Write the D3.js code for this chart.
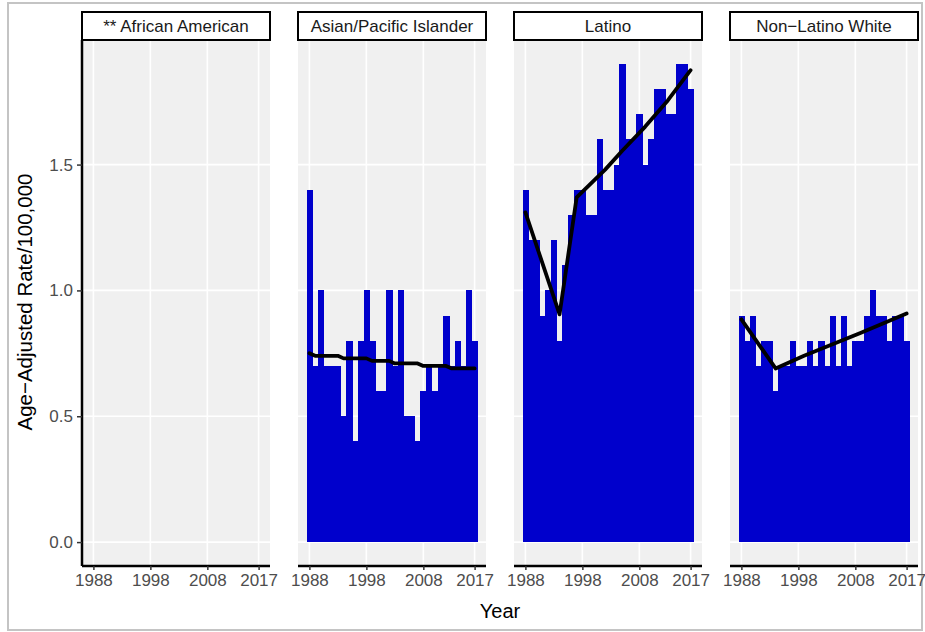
<!DOCTYPE html>
<html>
<head>
<meta charset="utf-8">
<script src="https://cdn.jsdelivr.net/npm/d3@7"></script>
<style>
  html, body { margin: 0; padding: 0; background: #ffffff; }
  svg { display: block; font-family: "Liberation Sans", Arial, sans-serif; }
</style>
</head>
<body>
<svg id="chart" width="925" height="632"></svg>
<script>
// ---------- data ----------
const groups = ["** African American", "Asian/Pacific Islander", "Latino", "Non\u2212Latino White"];
const years = [1988,1989,1990,1991,1992,1993,1994,1995,1996,1997,1998,1999,2000,2001,2002,
               2003,2004,2005,2006,2007,2008,2009,2010,2011,2012,2013,2014,2015,2016,2017];
const xTickYears = [1988, 1998, 2008, 2017];
const yTickValues = [0, 0.5, 1.0, 1.5];

// observed age-adjusted rates (African American suppressed)
const ratesAfricanAmerican = [];
const ratesAsianPI = [1.4,0.7,1.0,0.7,0.7,0.7,0.5,0.8,0.4,0.8,1.0,0.8,0.6,0.6,1.0,
                      0.7,1.0,0.5,0.5,0.4,0.6,0.7,0.6,0.7,0.9,0.7,0.8,0.7,1.0,0.8];
const ratesLatino = [1.4,1.2,1.2,0.9,1.0,1.2,0.8,1.1,1.3,1.4,1.4,1.3,1.3,1.6,1.4,
                     1.4,1.5,1.9,1.6,1.6,1.7,1.5,1.6,1.8,1.8,1.7,1.7,1.9,1.9,1.8];
const ratesNLWhite = [0.9,0.8,0.9,0.7,0.8,0.8,0.6,0.7,0.7,0.8,0.7,0.7,0.8,0.7,0.8,
                      0.7,0.9,0.7,0.9,0.7,0.8,0.8,0.9,1.0,0.9,0.9,0.8,0.9,0.9,0.8];

// modeled (joinpoint) trend values: [year, rate]
const trendAfricanAmerican = [];
const trendAsianPI = [[1988,0.75],[1989,0.74],[1990,0.74],[1991,0.74],[1992,0.74],[1993,0.74],
                      [1994,0.73],[1995,0.73],[1996,0.73],[1997,0.73],[1998,0.73],
                      [1999,0.72],[2000,0.72],[2001,0.72],[2002,0.72],
                      [2003,0.71],[2004,0.71],[2005,0.71],[2006,0.71],[2007,0.71],
                      [2008,0.70],[2009,0.70],[2010,0.70],[2011,0.70],[2012,0.70],
                      [2013,0.69],[2014,0.69],[2015,0.69],[2016,0.69],[2017,0.69]];
const trendLatino = [[1988,1.31],[1994,0.905],[1997,1.37],[2002,1.48],[2005,1.555],
                     [2009,1.65],[2013,1.755],[2017,1.875]];
const trendNLWhite = [[1988,0.885],[1994,0.69],[1999,0.74],[2009,0.832],[2017,0.908]];

const rateSeries = [ratesAfricanAmerican, ratesAsianPI, ratesLatino, ratesNLWhite];
const trendSeries = [trendAfricanAmerican, trendAsianPI, trendLatino, trendNLWhite];

// ---------- layout ----------
const svg = d3.select("#chart");
const panelW = 188, panelStep = 216, panelLeft0 = 82;
const panelTop = 40, panelBottom = 566;
const stripTop = 12;
const BAR = "#0000CC";

// outer frame
svg.append("rect").attr("x", 8).attr("y", 3).attr("width", 914).attr("height", 627)
  .attr("fill", "none").attr("stroke", "#c4c4c4").attr("stroke-width", 2);

const y = d3.scaleLinear().domain([-0.095, 1.995]).range([panelBottom, panelTop]);

groups.forEach((g, i) => {
  const x0 = panelLeft0 + i * panelStep;
  const x = d3.scaleLinear().domain([1986, 2019]).range([x0, x0 + panelW]);
  const p = svg.append("g");

  // panel background
  p.append("rect").attr("x", x0).attr("y", panelTop).attr("width", panelW)
    .attr("height", panelBottom - panelTop).attr("fill", "#f0f0f0");

  // grid
  p.selectAll(".gy").data(yTickValues).join("line")
    .attr("x1", x0).attr("x2", x0 + panelW)
    .attr("y1", d => y(d)).attr("y2", d => y(d))
    .attr("stroke", "#ffffff").attr("stroke-width", 1.6);
  p.selectAll(".gx").data(xTickYears).join("line")
    .attr("x1", d => x(d)).attr("x2", d => x(d))
    .attr("y1", panelTop).attr("y2", panelBottom)
    .attr("stroke", "#ffffff").attr("stroke-width", 1.6);

  // bars
  const vals = rateSeries[i];
  p.selectAll(".bar").data(vals.map((v, k) => ({ year: years[k], v }))).join("rect")
    .attr("x", d => x(d.year - 0.5))
    .attr("width", d => x(d.year + 0.5) - x(d.year - 0.5) + 0.6)
    .attr("y", d => y(d.v))
    .attr("height", d => y(0) - y(d.v))
    .attr("fill", BAR)
    .attr("shape-rendering", "crispEdges");

  // trend line
  const tr = trendSeries[i];
  if (tr.length) {
    p.append("path").datum(tr)
      .attr("d", d3.line().x(d => x(d[0])).y(d => y(d[1])))
      .attr("fill", "none").attr("stroke", "#000000")
      .attr("stroke-width", 3.8).attr("stroke-linejoin", "round").attr("stroke-linecap", "round");
  }

  // x axis
  const xa = p.append("g").attr("transform", `translate(0,${panelBottom})`)
    .call(d3.axisBottom(x).tickValues(xTickYears).tickFormat(d3.format("d")).tickSize(4).tickPadding(4));
  xa.select(".domain").attr("stroke", "#000").attr("stroke-width", 2.5)
    .attr("d", `M${x0},0H${x0 + panelW}`);
  xa.selectAll(".tick line").attr("stroke", "#333").attr("stroke-width", 1.5);
  xa.selectAll(".tick text").attr("fill", "#4d4d4d").attr("font-size", 17)
    .attr("font-family", "Liberation Sans, Arial, sans-serif");

  // strip
  p.append("rect").attr("x", x0).attr("y", stripTop).attr("width", panelW)
    .attr("height", panelTop - stripTop).attr("fill", "#ffffff")
    .attr("stroke", "#000").attr("stroke-width", 2);
  p.append("text").attr("x", x0 + panelW / 2).attr("y", (stripTop + panelTop) / 2 + 6)
    .attr("text-anchor", "middle").attr("font-size", 17).attr("fill", "#1a1a1a").text(g);

  // y axis on first panel only
  if (i === 0) {
    const ya = p.append("g").attr("transform", `translate(${x0},0)`)
      .call(d3.axisLeft(y).tickValues(yTickValues).tickFormat(d3.format(".1f")).tickSize(5).tickPadding(4));
    ya.select(".domain").attr("stroke", "#000").attr("stroke-width", 2.5)
      .attr("d", `M0,${panelTop}V${panelBottom}`);
    ya.selectAll(".tick line").attr("stroke", "#333").attr("stroke-width", 1.5);
    ya.selectAll(".tick text").attr("fill", "#4d4d4d").attr("font-size", 17)
      .attr("font-family", "Liberation Sans, Arial, sans-serif");
  }
});

// axis titles
svg.append("text").attr("x", 500).attr("y", 618).attr("text-anchor", "middle")
  .attr("font-size", 20).attr("fill", "#000").text("Year");
svg.append("text").attr("transform", "translate(32,302) rotate(-90)")
  .attr("text-anchor", "middle").attr("font-size", 20.5).attr("fill", "#000")
  .text("Age\u2212Adjusted Rate/100,000");
</script>
</body>
</html>
